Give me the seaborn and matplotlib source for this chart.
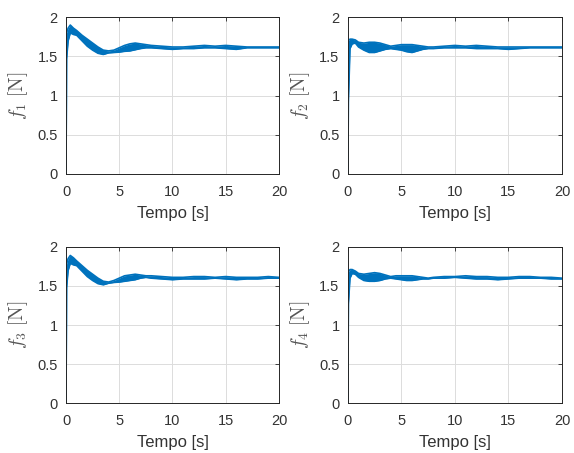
import numpy as np
import pandas as pd
import seaborn as sns
import matplotlib
matplotlib.use("Agg")
import matplotlib.pyplot as plt

# time samples (s) and band envelopes (chattering forces)
tempo = [0, 0.05, 0.2, 0.4, 0.7, 1.0, 1.5, 2.0, 2.5, 3.0, 3.5, 4.0, 4.5, 5.0, 5.5,
         6.0, 6.5, 7.0, 7.5, 8.0, 9.0, 10.0, 11.0, 12.0, 13.0, 14.0, 15.0, 16.0,
         17.0, 18.0, 19.0, 20.0]

f1_sup = [0, 1.80, 1.86, 1.90, 1.86, 1.83, 1.77, 1.72, 1.67, 1.62, 1.58, 1.57, 1.58, 1.61, 1.64,
          1.66, 1.67, 1.66, 1.65, 1.64, 1.63, 1.62, 1.62, 1.63, 1.64, 1.63, 1.64, 1.63,
          1.62, 1.62, 1.62, 1.62]
f1_inf = [0, 1.47, 1.70, 1.80, 1.78, 1.77, 1.70, 1.63, 1.58, 1.54, 1.525, 1.545, 1.55, 1.555, 1.565,
          1.57, 1.585, 1.60, 1.61, 1.61, 1.60, 1.59, 1.60, 1.60, 1.61, 1.61, 1.60, 1.59,
          1.61, 1.61, 1.61, 1.61]

f2_sup = [0, 1.70, 1.72, 1.72, 1.71, 1.68, 1.67, 1.68, 1.68, 1.67, 1.65, 1.63, 1.64, 1.65, 1.65,
          1.65, 1.64, 1.63, 1.62, 1.62, 1.63, 1.64, 1.63, 1.64, 1.63, 1.62, 1.62, 1.62,
          1.62, 1.62, 1.62, 1.62]
f2_inf = [0, 0.92, 1.60, 1.66, 1.67, 1.62, 1.58, 1.55, 1.55, 1.57, 1.59, 1.60, 1.59, 1.58, 1.56,
          1.55, 1.57, 1.59, 1.60, 1.60, 1.61, 1.61, 1.61, 1.60, 1.60, 1.60, 1.59, 1.60,
          1.61, 1.61, 1.61, 1.61]

f3_sup = [0, 1.78, 1.85, 1.89, 1.86, 1.82, 1.76, 1.70, 1.65, 1.60, 1.56, 1.55, 1.57, 1.60, 1.63,
          1.64, 1.65, 1.64, 1.63, 1.63, 1.62, 1.61, 1.61, 1.62, 1.62, 1.61, 1.62, 1.61,
          1.61, 1.61, 1.62, 1.61]
f3_inf = [0, 1.48, 1.70, 1.79, 1.77, 1.76, 1.69, 1.62, 1.57, 1.53, 1.515, 1.535, 1.545, 1.55, 1.56,
          1.57, 1.58, 1.60, 1.61, 1.60, 1.59, 1.58, 1.59, 1.59, 1.59, 1.60, 1.59, 1.58,
          1.59, 1.59, 1.60, 1.60]

f4_sup = [0, 1.68, 1.71, 1.71, 1.69, 1.66, 1.65, 1.66, 1.67, 1.66, 1.64, 1.62, 1.63, 1.63, 1.63,
          1.63, 1.62, 1.61, 1.60, 1.61, 1.62, 1.62, 1.63, 1.62, 1.62, 1.61, 1.61, 1.62,
          1.62, 1.61, 1.61, 1.60]
f4_inf = [0, 1.27, 1.60, 1.66, 1.65, 1.61, 1.57, 1.56, 1.56, 1.57, 1.59, 1.60, 1.59, 1.58, 1.57,
          1.57, 1.58, 1.59, 1.59, 1.60, 1.60, 1.61, 1.60, 1.59, 1.59, 1.58, 1.59, 1.60,
          1.60, 1.60, 1.59, 1.59]

rotulos = [r"$f_1\ \mathrm{[N]}$", r"$f_2\ \mathrm{[N]}$", r"$f_3\ \mathrm{[N]}$", r"$f_4\ \mathrm{[N]}$"]
bandas = [(f1_sup, f1_inf), (f2_sup, f2_inf), (f3_sup, f3_inf), (f4_sup, f4_inf)]
x_ticks = [0, 5, 10, 15, 20]
y_ticks = [0, 0.5, 1, 1.5, 2]
y_ticklabels = ["0", "0.5", "1", "1.5", "2"]

sns.set_theme(style="whitegrid")
plt.rcParams["font.family"] = ["Liberation Sans", "DejaVu Sans"]
plt.rcParams["mathtext.fontset"] = "cm"

azul = "#0072BD"
fig = plt.figure(figsize=(5.74, 4.53), dpi=100)
posicoes = [[0.115, 0.616, 0.371, 0.346], [0.606, 0.616, 0.373, 0.346],
            [0.115, 0.110, 0.371, 0.345], [0.606, 0.110, 0.373, 0.345]]

for i in range(4):
    ax = fig.add_axes(posicoes[i])
    sup, inf = bandas[i]
    df = pd.DataFrame({"Tempo": tempo, "sup": sup, "inf": inf})
    ax.fill_between(df["Tempo"], df["inf"], df["sup"], color=azul, linewidth=0)
    sns.lineplot(data=df, x="Tempo", y="sup", ax=ax, color=azul, linewidth=1.2)
    sns.lineplot(data=df, x="Tempo", y="inf", ax=ax, color=azul, linewidth=1.2)
    ax.set_xlim(0, 20)
    ax.set_ylim(0, 2)
    ax.set_xticks(x_ticks)
    ax.set_yticks(y_ticks)
    ax.set_yticklabels(y_ticklabels)
    ax.grid(True, color="#dcdcdc", linewidth=0.7)
    for s in ax.spines.values():
        s.set_color("#262626")
        s.set_linewidth(0.7)
    ax.tick_params(axis="both", direction="in", length=3, width=0.6, colors="#262626",
                   labelsize=10.5, labelcolor="#333333", top=True, right=True)
    ax.tick_params(axis="x", pad=8)
    ax.tick_params(axis="y", pad=6)
    ax.set_xlabel("Tempo [s]", fontsize=12, color="#333333", labelpad=5)
    ax.set_ylabel(rotulos[i], fontsize=14, color="#555555", labelpad=5)

plt.savefig("out.png", dpi=100)
